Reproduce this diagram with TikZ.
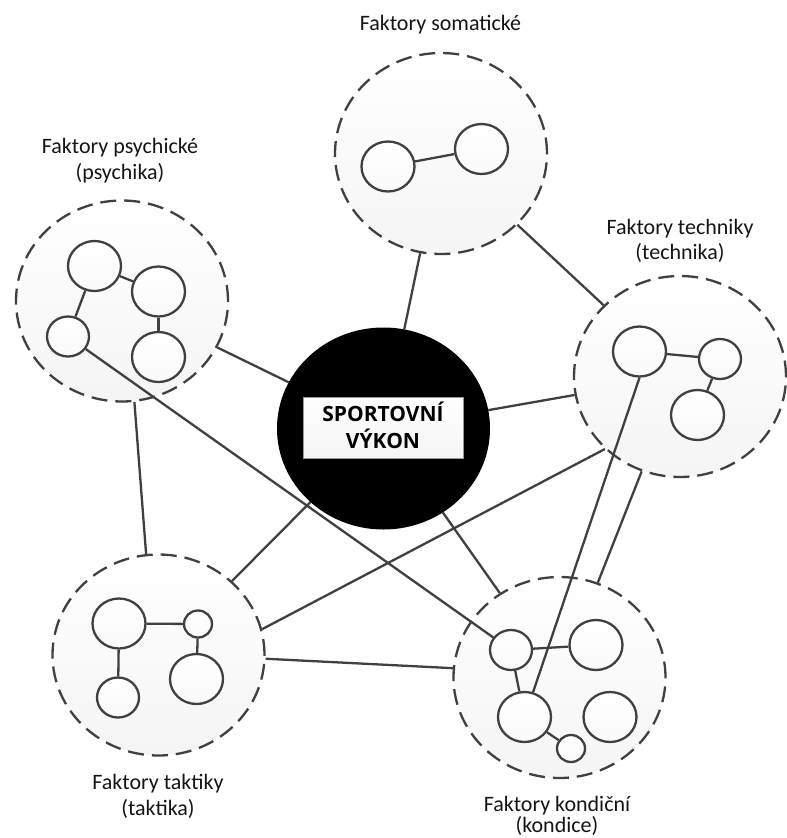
\documentclass[tikz,border=0pt]{standalone}
\usepackage{fontspec}
\setmainfont{Carlito}
\newfontfamily\headfont{Open Sans}
\usetikzlibrary{shapes.geometric}
\definecolor{ink}{HTML}{404040}
\definecolor{txt}{HTML}{151515}
\begin{document}
\begin{tikzpicture}[x=1pt,y=-1pt,
  group/.style={ellipse, draw=ink, line width=2.3pt, dash pattern=on 16pt off 8pt,
    top color=white, bottom color=black!4, minimum width=212pt, minimum height=201pt, inner sep=0pt},
  core/.style={ellipse, fill=black, draw=black, line width=1pt,
    minimum width=212pt, minimum height=201pt, inner sep=0pt},
  item/.style={ellipse, draw=ink, line width=2.3pt, top color=white, bottom color=black!2, inner sep=0pt},
  bigitem/.style={item, minimum width=53pt, minimum height=50pt},
  miditem/.style={item, minimum width=42pt, minimum height=40pt},
  smallitem/.style={item, minimum width=28pt, minimum height=27pt},
  link/.style={draw=ink, line width=2.3pt},
  lbl/.style={anchor=base, text=txt, inner sep=0pt, font=\fontsize{22}{27}\selectfont},
  head/.style={anchor=base, text=black, inner sep=0pt, font=\headfont\bfseries\fontsize{21}{26}\selectfont},
  titlebox/.style={rectangle, draw=black!40, line width=1pt, top color=white, bottom color=black!4,
    minimum width=160pt, minimum height=61pt, inner sep=0pt}
]
\useasboundingbox (0,0) rectangle (787,838);

% factor groups
\node[group] (soma) at (441,153.5) {};
\node[group] (psyc) at (122,301) {};
\node[group] (tech) at (680,376.5) {};
\node[group] (takt) at (158.5,655) {};
\node[group] (kond) at (559.5,677.5) {};

% central disc
\node[core] (perf) at (383.5,428.5) {};

% links between the groups
\draw[link] (perf) -- (soma);
\draw[link] (soma) -- (tech);
\draw[link] (psyc) -- (perf);
\draw[link] (perf) -- (tech);
\draw[link] (psyc.-83) -- (takt.97.5);
\draw[link] (perf) -- (takt);
\draw[link] (perf) -- (kond);
\draw[link] (takt.14.5) -- (tech.224);
\draw[link] (takt.-2.7) -- (kond.175);
\draw[link] (tech.-112) -- (kond.68.4);

% somatic factors
\node[bigitem] (s1) at (388,166.5) {};
\node[bigitem] (s2) at (481.5,149) {};
\draw[link] (s1) -- (s2);

% psychic factors
\node[bigitem] (p1) at (94.5,266) {};
\node[bigitem] (p2) at (158.5,291.5) {};
\node[miditem] (p3) at (68,336.5) {};
\node[bigitem] (p4) at (158.5,357) {};
\draw[link] (p1) -- (p2);
\draw[link] (p1) -- (p3);
\draw[link] (p2) -- (p4);

% technique factors
\node[bigitem] (t1) at (639.5,351.5) {};
\node[miditem] (t2) at (720,359) {};
\node[bigitem] (t3) at (697.5,415) {};
\draw[link] (t1) -- (t2);
\draw[link] (t2) -- (t3);

% tactics factors
\node[bigitem] (k1) at (119,623.5) {};
\node[smallitem] (k2) at (198,624) {};
\node[miditem] (k3) at (118,697.5) {};
\node[bigitem] (k4) at (196.5,679) {};
\draw[link] (k1) -- (k2);
\draw[link] (k1) -- (k3);
\draw[link] (k2) -- (k4);

% condition factors
\node[miditem] (c1) at (511,650) {};
\node[bigitem] (c2) at (596,645) {};
\node[bigitem] (c3) at (524.5,717) {};
\node[bigitem] (c4) at (610,717) {};
\node[smallitem] (c5) at (571,748.5) {};
\draw[link] (c1) -- (c2);
\draw[link] (c1) -- (c3);
\draw[link] (c3) -- (c5);

% links between single factors of different groups
\draw[link] (p3) -- (c1);
\draw[link] (t1.-90) -- (c3.71);

% title plate
\node[titlebox] (plate) at (383,427.5) {};
\node[head] (h1) at (383,421.5) {SPORTOVNÍ};
\node[head] (h2) at (383,448) {VÝKON};

% group captions
\node[lbl] (lsoma) at (440.5,30) {Faktory somatické};
\node[lbl] (lpsyc) at (120,153) {Faktory psychické};
\node[lbl] (lpsyc2) at (120,179) {(psychika)};
\node[lbl] (ltech) at (680,234) {Faktory techniky};
\node[lbl] (ltech2) at (680,259.5) {(technika)};
\node[lbl] (ltakt) at (158,789) {Faktory taktiky};
\node[lbl] (ltakt2) at (158,815) {(taktika)};
\node[lbl] (lkond) at (557,811) {Faktory kondiční};
\node[lbl] (lkond2) at (557,832) {(kondice)};
\end{tikzpicture}
\end{document}
